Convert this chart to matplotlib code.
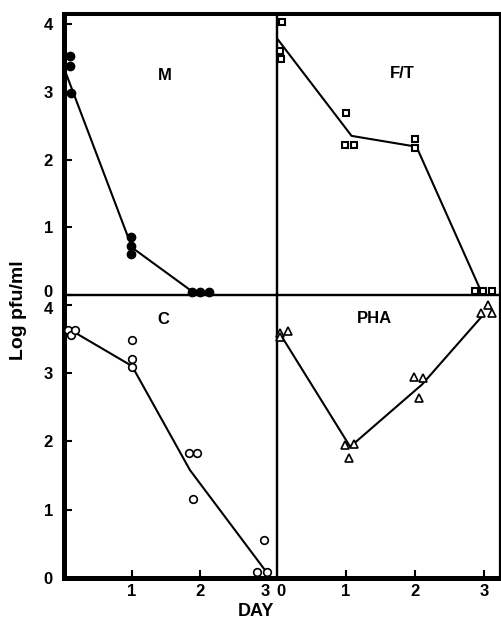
import matplotlib
matplotlib.use('Agg')
import matplotlib.pyplot as plt
import matplotlib.transforms as mtransforms

plt.rcParams['font.family'] = ['Liberation Sans', 'DejaVu Sans']
plt.rcParams['font.weight'] = 'bold'

# ---- data (log pfu/ml per day) ----
m_x = [0.09, 0.09, 0.10, 0.99, 0.99, 0.99, 1.88, 2.0, 2.13]
m_y = [3.53, 3.38, 2.98, 0.86, 0.72, 0.60, 0.05, 0.05, 0.05]
m_line_x = [0.0, 1.0, 1.9]
m_line_y = [3.35, 0.70, 0.04]

ft_x = [0.07, 0.05, 0.06, 1.0, 0.98, 1.11, 2.0, 2.0, 2.87, 2.99, 3.11]
ft_y = [4.03, 3.60, 3.48, 2.69, 2.21, 2.21, 2.30, 2.17, 0.06, 0.06, 0.06]
ft_line_x = [0.0, 1.08, 2.02, 2.94]
ft_line_y = [3.79, 2.35, 2.19, 0.09]

c_x = [0.06, 0.10, 0.16, 1.0, 1.0, 1.0, 1.83, 1.96, 1.89, 2.83, 2.98, 2.94]
c_y = [3.63, 3.56, 3.63, 3.48, 3.20, 3.09, 1.83, 1.83, 1.16, 0.09, 0.09, 0.55]
c_line_x = [0.11, 1.0, 1.85, 2.95]
c_line_y = [3.62, 3.10, 1.58, 0.12]

pha_x = [0.05, 0.05, 0.16, 0.98, 1.11, 1.04, 1.99, 2.12, 2.05, 2.96, 3.06, 3.11]
pha_y = [3.59, 3.53, 3.61, 1.95, 1.96, 1.76, 2.94, 2.92, 2.63, 3.88, 4.00, 3.87]
pha_line_x = [0.07, 1.06, 2.1, 2.97]
pha_line_y = [3.53, 1.92, 2.83, 3.83]

y_ticks = [0, 1, 2, 3, 4]
left_x_ticks = [1, 2, 3]
right_x_ticks = [0, 1, 2, 3]

W, H = 501, 621
fig = plt.figure(figsize=(W / 100, H / 100), dpi=100)


def frac(x0, y0, x1, y1):
    # pixel box -> figure fraction
    return [x0 / W, 1 - y1 / H, (x1 - x0) / W, (y1 - y0) / H]


def nudge(label, dx, dy):
    # shift a tick label by dx, dy pixels
    off = mtransforms.ScaledTranslation(dx / 100, dy / 100, fig.dpi_scale_trans)
    label.set_transform(label.get_transform() + off)


ax_m = fig.add_axes(frac(64, 14, 277, 295))
ax_ft = fig.add_axes(frac(277, 14, 500, 295))
ax_c = fig.add_axes(frac(64, 295, 277, 578))
ax_pha = fig.add_axes(frac(277, 295, 500, 578))

for ax in [ax_m, ax_ft, ax_c, ax_pha]:
    ax.set_facecolor('none')
    for s in ax.spines.values():
        s.set_linewidth(1.6)
    ax.tick_params(direction='in', length=6, width=1.5, labelsize=12, pad=8)

ax_m.set_xlim(0, 3.13)
ax_c.set_xlim(0, 3.13)
ax_ft.set_xlim(0, 3.23)
ax_pha.set_xlim(0, 3.23)
for ax in [ax_m, ax_ft]:
    ax.set_ylim(0, 4.15)
for ax in [ax_c, ax_pha]:
    ax.set_ylim(0, 4.14)

# thick outer frame
ax_m.spines['left'].set_linewidth(3.6)
ax_c.spines['left'].set_linewidth(3.6)
ax_m.spines['top'].set_linewidth(2.9)
ax_ft.spines['top'].set_linewidth(2.9)
ax_c.spines['bottom'].set_linewidth(3.6)
ax_pha.spines['bottom'].set_linewidth(3.6)

# ticks
ax_m.set_yticks(y_ticks)
ax_c.set_yticks(y_ticks)
ax_m.set_xticks([])
ax_ft.set_xticks([])
ax_ft.set_yticks([])
ax_pha.set_yticks([])
ax_c.set_xticks(left_x_ticks)
ax_pha.set_xticks(right_x_ticks)
ax_c.tick_params(axis='x', pad=4)
ax_pha.tick_params(axis='x', pad=4)
ax_pha.xaxis.get_major_ticks()[0].tick1line.set_visible(False)

# the crowded labels where the panels meet
nudge(ax_m.get_yticklabels()[0], 0, 4)
nudge(ax_c.get_yticklabels()[-1], 0, -3)
nudge(ax_c.get_xticklabels()[-1], -3, 0)
nudge(ax_pha.get_xticklabels()[0], 4, 0)

# data
ax_m.plot(m_line_x, m_line_y, color='black', lw=1.5, zorder=2)
ax_m.plot(m_x, m_y, 'o', color='black', ms=6, clip_on=False, zorder=3)

ax_ft.plot(ft_line_x, ft_line_y, color='black', lw=1.5, zorder=2)
ax_ft.plot(ft_x, ft_y, 's', mfc='white', mec='black', mew=1.5, ms=5, clip_on=False, zorder=3)

ax_c.plot(c_line_x, c_line_y, color='black', lw=1.5, zorder=2)
ax_c.plot(c_x, c_y, 'o', mfc='white', mec='black', mew=1.2, ms=5.5, clip_on=False, zorder=3)

ax_pha.plot(pha_line_x, pha_line_y, color='black', lw=1.5, zorder=2)
ax_pha.plot(pha_x, pha_y, '^', mfc='white', mec='black', mew=1.2, ms=5.5, clip_on=False, zorder=3)

# panel labels
fig.text(165 / W, 1 - 76 / H, 'M', ha='center', va='center', fontsize=12, fontweight='bold')
fig.text(402 / W, 1 - 74 / H, 'F/T', ha='center', va='center', fontsize=12, fontweight='bold')
fig.text(163 / W, 1 - 320 / H, 'C', ha='center', va='center', fontsize=12, fontweight='bold')
fig.text(374 / W, 1 - 319 / H, 'PHA', ha='center', va='center', fontsize=12, fontweight='bold')

fig.text(19 / W, 1 - 310 / H, 'Log pfu/ml', rotation=90, ha='center', va='center',
         fontsize=14, fontweight='bold')
fig.text(256 / W, 1 - 611 / H, 'DAY', ha='center', va='center', fontsize=13, fontweight='bold')

fig.savefig('out.png', dpi=100)
